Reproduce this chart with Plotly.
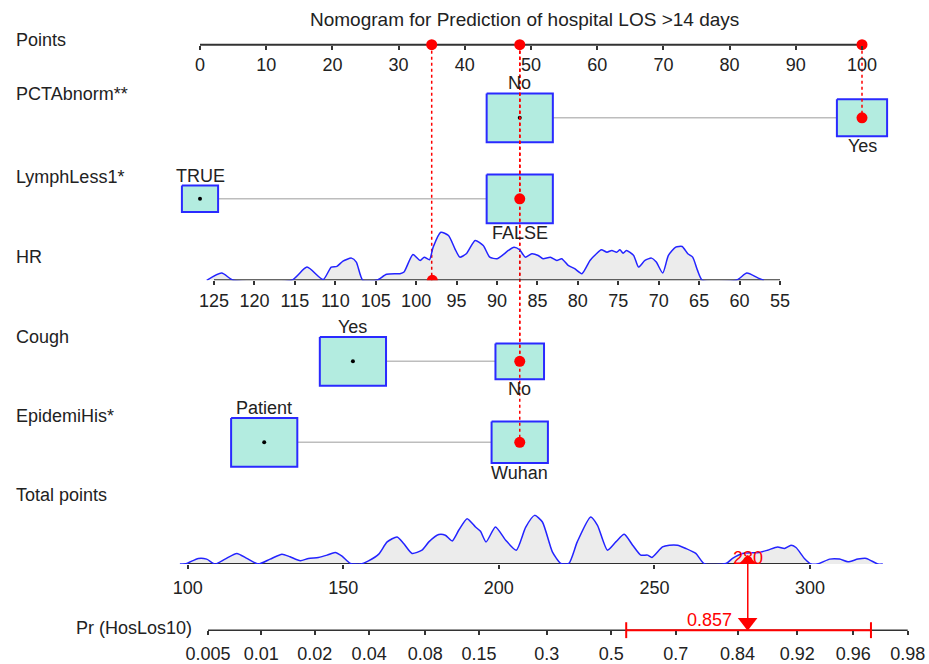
import math
import plotly.graph_objects as go

W, H = 929, 664

# ---------------- data ----------------
title_text = "Nomogram for Prediction of hospital LOS >14 days"

points_ticks = [0, 10, 20, 30, 40, 50, 60, 70, 80, 90, 100]
hr_ticks = [125, 120, 115, 110, 105, 100, 95, 90, 85, 80, 75, 70, 65, 60, 55]
total_ticks = [100, 150, 200, 250, 300]
pr_ticks = [0.005, 0.01, 0.02, 0.04, 0.08, 0.15, 0.3, 0.5, 0.7, 0.84, 0.92, 0.96, 0.98]
pr_tick_labels = ["0.005", "0.01", "0.02", "0.04", "0.08", "0.15", "0.3", "0.5",
                  "0.7", "0.84", "0.92", "0.96", "0.98"]

# categorical predictors: level names, points, relative frequency, selected level
pct_levels = ["No", "Yes"]
pct_points = [48.3, 100.0]
pct_freq = [0.635, 0.365]
pct_selected = "Yes"

lymph_levels = ["TRUE", "FALSE"]
lymph_points = [0.0, 48.3]
lymph_freq = [0.23, 0.77]
lymph_selected = "FALSE"

cough_levels = ["Yes", "No"]
cough_points = [23.1, 48.3]
cough_freq = [0.65, 0.35]
cough_selected = "No"

epi_levels = ["Patient", "Wuhan"]
epi_points = [9.7, 48.3]
epi_freq = [0.58, 0.42]
epi_selected = "Wuhan"

# HR distribution (value, relative density)
hr_x = [125.9, 124.05, 122.6, 115.4, 113.5, 111.5, 110.5, 109.8, 109.05, 108.0, 107.4,
        106.6, 104.9, 103.65, 102.0, 101.5, 100.4, 99.5, 99.0, 98.35, 97.9, 96.95, 96.0,
        95.2, 94.6, 93.8, 92.7, 91.7, 90.9, 90.0, 89.2, 88.6, 87.9, 87.2, 86.5, 85.7,
        84.9, 84.3, 83.4, 82.6, 82.0, 81.2, 80.4, 79.5, 78.5, 77.7, 77.1, 76.4, 75.8,
        75.2, 74.8, 74.4, 74.0, 73.1, 72.5, 71.7, 70.9, 70.3, 69.5, 68.8, 67.9, 67.1,
        66.4, 65.8, 65.2, 64.6, 60.4, 59.1, 57.8, 57.0]
hr_dens = [0, 7.3, 0, 0, 13.3, 0.7, 13.3, 14, 19.3, 22.3, 18.3,
           0, 0, 6, 6.7, 8.3, 26, 20, 23.3, 20.7, 33.3, 48.3, 45,
           31.7, 23.3, 26.7, 40, 35, 23.3, 21.7, 26, 30, 33.3, 30.7, 23.3, 26.7,
           25, 21.7, 23.3, 20, 21.7, 15, 11.7, 6.7, 20, 26.7, 30.7, 28.3, 30,
           28.3, 30.7, 27.3, 30, 25, 13.3, 20, 22.3, 18.3, 7.3, 25, 33.3, 34,
           26.7, 23.3, 10, 0, 0, 7.3, 2.7, 0]
hr_selected = 98.0
hr_selected_points = 35.0

# Total points distribution (value, relative density)
tot_x = [97.5, 99.7, 103.4, 106.1, 108.8, 112.0, 115.8, 119.0, 122.7, 126.5, 130.3, 132.9,
         136.2, 138.8, 142.0, 144.8, 147.4, 149.6, 152.3, 155.5, 158.1, 161.4, 164.1,
         167.3, 169.4, 172.1, 175.3, 177.5, 180.7, 182.8, 185.0, 187.1, 189.8, 192.5,
         194.1, 195.9, 198.9, 202.2, 205.6, 208.6, 211.5, 214.0, 217.2, 219.9, 222.5,
         225.2, 229.5, 231.7, 234.9, 237.6, 240.3, 243.0, 245.6, 247.8, 249.2, 252.6,
         254.8, 257.4, 260.1, 263.3, 266.0, 273.0, 275.1, 278.3, 283.7, 286.4, 289.6,
         291.8, 293.9, 295.5, 298.2, 300.4, 303.0, 306.3, 309.5, 312.2, 315.4, 318.1,
         321.8, 323.4]
tot_dens = [0, 0.7, 5.7, 5, 0, 5, 10.7, 5.7, 0, 5, 10, 7.3,
            3.3, 5.7, 6.7, 9, 11.7, 8, 0.7, 0, 3.3, 10, 22.3,
            27.3, 20.7, 10.7, 14, 22.3, 29.7, 29, 23.3, 34, 45.7, 37.3,
            33, 22.3, 37.3, 24, 14, 37, 49, 42.3, 12.3, 0.7, 0.7,
            22.3, 47.3, 39, 14, 22.3, 30, 19, 9, 9, 6.7, 17.3,
            19, 19, 15.7, 10.7, 0.5, 0.5, 5.7, 10.7, 11.7, 14, 17.3,
            15.7, 19, 16.7, 5.7, 0, 0.7, 5, 5, 2.3, 5, 5.7,
            0, 0]
total_selected = 280
prob_selected = 0.857
prob_ci = [0.549, 0.968]

# ---------------- style / layout constants ----------------
FONT = "Liberation Sans, Arial, Helvetica, sans-serif"
TXT = "#222222"
FS = 18
BOX_FILL = "#b3ece0"
BOX_LINE = "#2a2aff"
RED = "#ff0000"
DENS_LINE = "#2323ff"
DENS_FILL = "rgba(0,0,0,0.075)"
AXIS_C = "#333333"

Y_POINTS, Y_PCT, Y_LYMPH, Y_HR, Y_COUGH, Y_EPI, Y_TOT, Y_PR = 45, 118.5, 200, 282, 363.5, 445, 567.5, 634
BOX_W_MAX = 10.0   # points units
BOX_H_MAX = 49.0   # px
DENS_SPAN = 60.0


def logit(p):
    return math.log(p / (1 - p))


def lin_range(v0, p0, v1, p1):
    s = (p1 - p0) / (v1 - v0)
    return [v0 - p0 / s, v0 + (W - p0) / s]


def yf(py):
    return 1 - py / H


fig = go.Figure()

# axis lines (drawn from the tick ranges)
fig.add_trace(go.Scatter(x=[points_ticks[0], points_ticks[-1]], y=[Y_POINTS, Y_POINTS],
                         mode="lines", line=dict(color=AXIS_C, width=2),
                         xaxis="x", yaxis="y", hoverinfo="skip"))

# categorical rows
rows = [
    ("PCTAbnorm**", pct_levels, pct_points, pct_freq, pct_selected, Y_PCT),
    ("LymphLess1*", lymph_levels, lymph_points, lymph_freq, lymph_selected, Y_LYMPH),
    ("Cough", cough_levels, cough_points, cough_freq, cough_selected, Y_COUGH),
    ("EpidemiHis*", epi_levels, epi_points, epi_freq, epi_selected, Y_EPI),
]

annotations = []
for name, levels, pts, freq, sel, yc in rows:
    fig.add_trace(go.Scatter(x=[min(pts), max(pts)], y=[yc, yc], mode="lines",
                             line=dict(color="#bdbdbd", width=1.5),
                             xaxis="x", yaxis="y", hoverinfo="skip"))
    fmax = max(freq)
    for i, (lev, p, f) in enumerate(zip(levels, pts, freq)):
        sc = math.sqrt(f / fmax)
        w = BOX_W_MAX * sc
        h = BOX_H_MAX * sc
        fig.add_trace(go.Scatter(
            x=[p - w / 2, p + w / 2, p + w / 2, p - w / 2, p - w / 2],
            y=[yc - h / 2, yc - h / 2, yc + h / 2, yc + h / 2, yc - h / 2],
            mode="lines", fill="toself", fillcolor=BOX_FILL,
            line=dict(color=BOX_LINE, width=2), xaxis="x", yaxis="y", hoverinfo="skip"))
        ly = yc - h / 2 - 10 if i == 0 else yc + h / 2 + 10
        annotations.append(dict(x=p, y=ly, xref="x", yref="y", text=lev, showarrow=False,
                                xanchor="center", yanchor="middle",
                                font=dict(size=FS, color=TXT, family=FONT)))
        if lev != sel:
            fig.add_trace(go.Scatter(x=[p], y=[yc], mode="markers",
                                     marker=dict(color="black", size=4),
                                     xaxis="x", yaxis="y", hoverinfo="skip"))

# red dotted guide lines
for name, levels, pts, freq, sel, yc in rows:
    p = pts[levels.index(sel)]
    fig.add_trace(go.Scatter(x=[p, p], y=[Y_POINTS, yc], mode="lines",
                             line=dict(color=RED, width=1.5, dash="dot"),
                             xaxis="x", yaxis="y", hoverinfo="skip"))
fig.add_trace(go.Scatter(x=[hr_selected_points, hr_selected_points], y=[Y_POINTS, Y_HR],
                         mode="lines", line=dict(color=RED, width=1.5, dash="dot"),
                         xaxis="x", yaxis="y", hoverinfo="skip"))

# red selected dots on rows and on points axis
sel_pts = []
for name, levels, pts, freq, sel, yc in rows:
    p = pts[levels.index(sel)]
    sel_pts.append(p)
    fig.add_trace(go.Scatter(x=[p], y=[yc], mode="markers",
                             marker=dict(color=RED, size=11),
                             xaxis="x", yaxis="y", hoverinfo="skip"))
sel_pts.append(hr_selected_points)
axis_pts = sorted(set(sel_pts))
fig.add_trace(go.Scatter(x=axis_pts, y=[Y_POINTS] * len(axis_pts), mode="markers",
                         marker=dict(color=RED, size=11), xaxis="x", yaxis="y",
                         hoverinfo="skip"))

# HR density
fig.add_trace(go.Scatter(x=[hr_ticks[0], hr_ticks[-1]], y=[0, 0], mode="lines",
                         line=dict(color=AXIS_C, width=2), xaxis="x2", yaxis="y2",
                         hoverinfo="skip"))
fig.add_trace(go.Scatter(x=hr_x, y=hr_dens, mode="lines", fill="tozeroy",
                         fillcolor=DENS_FILL, line=dict(color=DENS_LINE, width=1.5,
                                                        shape="spline", smoothing=0.6),
                         xaxis="x2", yaxis="y2", hoverinfo="skip"))
fig.add_trace(go.Scatter(x=[hr_selected], y=[0], mode="markers",
                         marker=dict(color=RED, size=11), xaxis="x2", yaxis="y2",
                         hoverinfo="skip"))

# Total points density
fig.add_trace(go.Scatter(x=[total_ticks[0], total_ticks[-1]], y=[0, 0], mode="lines",
                         line=dict(color=AXIS_C, width=2), xaxis="x3", yaxis="y3",
                         hoverinfo="skip"))
fig.add_trace(go.Scatter(x=tot_x, y=tot_dens, mode="lines", fill="tozeroy",
                         fillcolor=DENS_FILL, line=dict(color=DENS_LINE, width=1.5,
                                                        shape="spline", smoothing=0.6),
                         xaxis="x3", yaxis="y3", hoverinfo="skip"))
fig.add_trace(go.Scatter(x=[total_selected], y=[0], mode="markers",
                         marker=dict(color=RED, size=14, symbol="diamond"),
                         xaxis="x3", yaxis="y3", hoverinfo="skip"))

# line from total points to probability
fig.add_trace(go.Scatter(x=[total_selected, total_selected], y=[Y_TOT, Y_PR - 10],
                         mode="lines", line=dict(color=RED, width=1.5),
                         xaxis="x3", yaxis="y", hoverinfo="skip"))

# Pr axis line
pr_lg = [logit(p) for p in pr_ticks]
fig.add_trace(go.Scatter(x=[pr_lg[0], pr_lg[-1]], y=[Y_PR, Y_PR], mode="lines",
                         line=dict(color=AXIS_C, width=1.5), xaxis="x4", yaxis="y",
                         hoverinfo="skip"))
# CI bar
ci_lg = [logit(p) for p in prob_ci]
fig.add_trace(go.Scatter(x=ci_lg, y=[Y_PR, Y_PR], mode="lines",
                         line=dict(color=RED, width=2), xaxis="x4", yaxis="y",
                         hoverinfo="skip"))
for c in ci_lg:
    fig.add_trace(go.Scatter(x=[c, c], y=[Y_PR - 8, Y_PR + 8], mode="lines",
                             line=dict(color=RED, width=2), xaxis="x4", yaxis="y",
                             hoverinfo="skip"))
fig.add_trace(go.Scatter(x=[logit(prob_selected)], y=[Y_PR - 8], mode="markers",
                         marker=dict(color=RED, size=17, symbol="triangle-down"),
                         xaxis="x4", yaxis="y", hoverinfo="skip"))

# text annotations
annotations.append(dict(x=524 / W, y=20, xref="paper", yref="y", text=title_text,
                        showarrow=False, xanchor="center", yanchor="middle",
                        font=dict(size=FS + 1, color=TXT, family=FONT)))
row_labels = [("Points", 40), ("PCTAbnorm**", 95), ("LymphLess1*", 178), ("HR", 259),
              ("Cough", 339), ("EpidemiHis*", 419), ("Total points", 498)]
for t, py in row_labels:
    annotations.append(dict(x=14 / W, y=py, xref="paper", yref="y", text=t,
                            showarrow=False, xanchor="left", yanchor="middle",
                            font=dict(size=FS, color=TXT, family=FONT)))
annotations.append(dict(x=194 / W, y=632, xref="paper", yref="y", text="Pr (HosLos10)",
                        showarrow=False, xanchor="right", yanchor="middle",
                        font=dict(size=FS, color=TXT, family=FONT)))
annotations.append(dict(x=total_selected, y=561, xref="x3", yref="y",
                        text=str(total_selected), showarrow=False, xanchor="center",
                        yanchor="middle", font=dict(size=FS, color=RED, family=FONT)))
annotations.append(dict(x=logit(prob_selected), y=624, xref="x4", yref="y",
                        text=f"{prob_selected:.3f}", showarrow=False, xanchor="right",
                        xshift=-14, yanchor="middle",
                        font=dict(size=FS, color=RED, family=FONT)))

tickfont = dict(size=FS, color=TXT, family=FONT)
common_x = dict(showgrid=False, zeroline=False, showline=False, ticks="outside",
                ticklen=4, tickwidth=1.5, tickcolor=AXIS_C, tickfont=tickfont,
                anchor="free", domain=[0, 1], fixedrange=True)

fig.update_layout(
    width=W, height=H,
    margin=dict(l=0, r=0, t=0, b=0),
    paper_bgcolor="white",
    plot_bgcolor="rgba(0,0,0,0)",
    showlegend=False,
    font=dict(family=FONT, color=TXT, size=FS),
    xaxis=dict(range=lin_range(0, 200, 100, 862), tickvals=points_ticks,
               position=yf(Y_POINTS), **common_x),
    xaxis2=dict(range=lin_range(125, 214, 55, 780), tickvals=hr_ticks,
                position=yf(Y_HR), **common_x),
    xaxis3=dict(range=lin_range(100, 187.7, 300, 810), tickvals=total_ticks,
                position=yf(Y_TOT), ticklabelstandoff=3, **common_x),
    xaxis4=dict(range=lin_range(logit(0.005), 208, logit(0.98), 907.7), tickvals=pr_lg,
                ticktext=pr_tick_labels, position=yf(Y_PR), ticklabelstandoff=3, **common_x),
    yaxis=dict(range=[H, 0], domain=[0, 1], visible=False, fixedrange=True),
    yaxis2=dict(range=[0, DENS_SPAN], domain=[yf(Y_HR), yf(Y_HR - DENS_SPAN)],
                visible=False, anchor="x2", fixedrange=True),
    yaxis3=dict(range=[0, DENS_SPAN], domain=[yf(Y_TOT), yf(Y_TOT - DENS_SPAN)],
                visible=False, anchor="x3", fixedrange=True),
    annotations=annotations,
)

fig.write_html("out.html", config={"displayModeBar": False},
               post_script="document.body.style.margin='0px';document.body.style.overflow='hidden';")
